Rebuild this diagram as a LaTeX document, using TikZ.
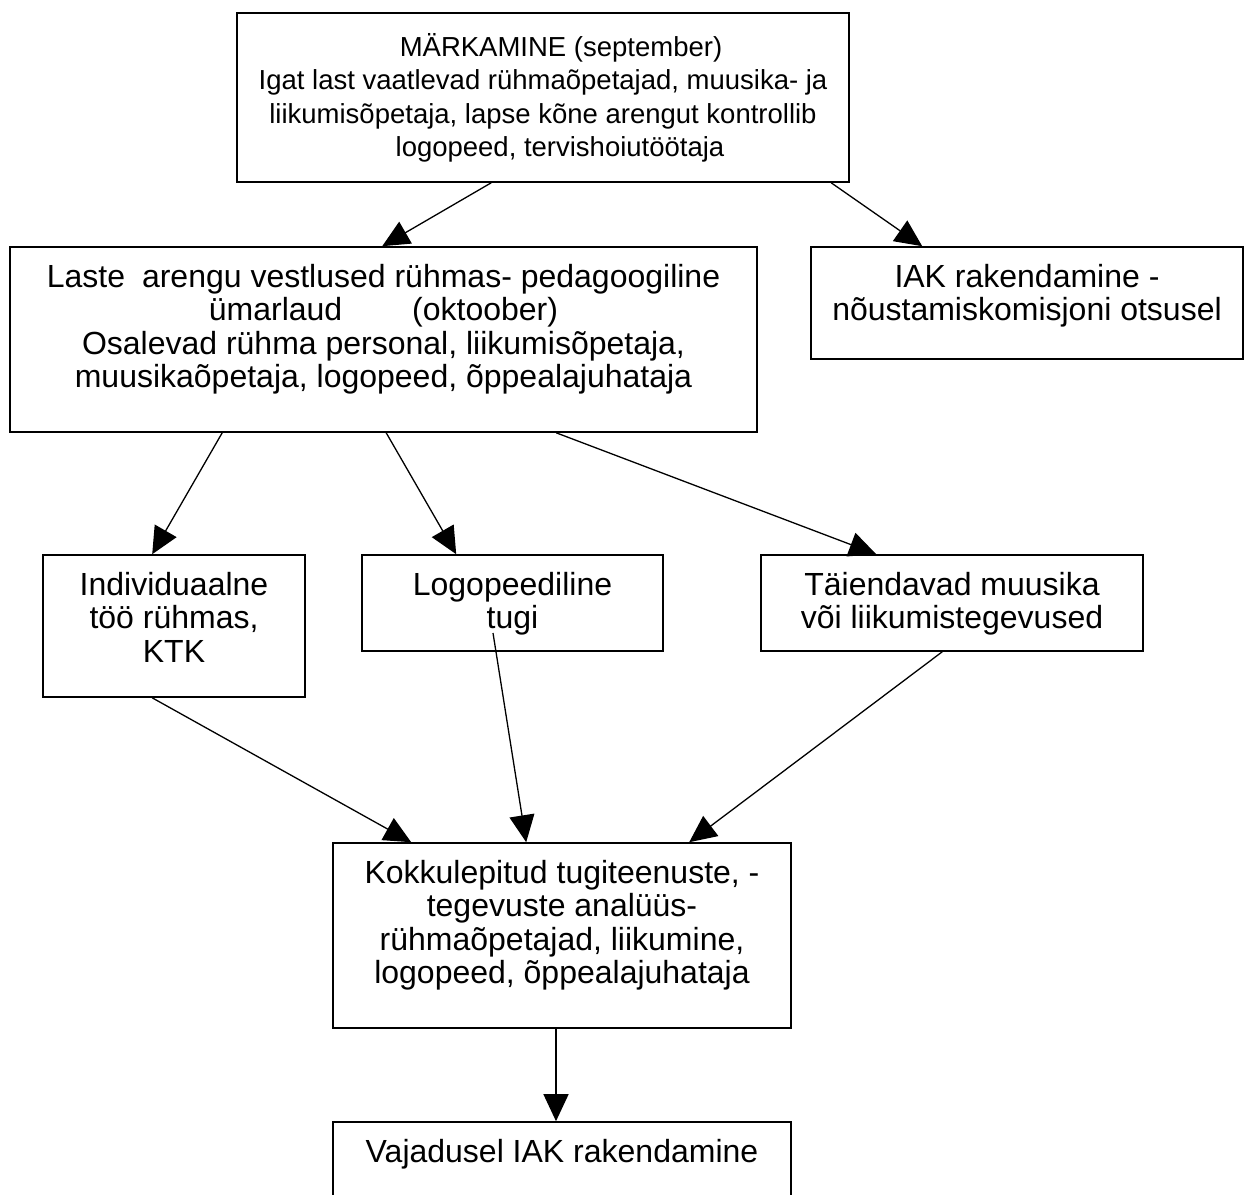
\documentclass[tikz,border=0pt]{standalone}
\usepackage{fontspec}
\setmainfont{Liberation Sans}
\usetikzlibrary{arrows.meta,calc}
\newcommand{\fl}{\rule{0pt}{30pt}}
\begin{document}
\begin{tikzpicture}[x=1pt,y=-1pt,
  box/.style={draw,line width=1.6pt,rectangle,inner sep=0pt},
  txt/.style={align=center,font=\fontsize{32}{33.5}\selectfont,inner sep=0pt,anchor=north},
  smalltxt/.style={txt,font=\fontsize{27.5}{33.5}\selectfont},
  conn/.style={line width=1.3pt,-{Triangle[length=27pt,width=25pt]}}]
\useasboundingbox (0,0) rectangle (1246,1194);
\clip (0,0) rectangle (1246,1194);
\fill[white] (0,0) rectangle (1246,1194);
% boxes
\node[box,minimum width=612pt,minimum height=169pt] (top) at (543,97.5) {};
\node[box,minimum width=747pt,minimum height=185pt] (laste) at (383.5,339.5) {};
\node[box,minimum width=432pt,minimum height=112pt] (iak) at (1027,303) {};
\node[box,minimum width=262pt,minimum height=142pt] (indiv) at (174,626) {};
\node[box,minimum width=301pt,minimum height=96pt] (logo) at (512.5,603) {};
\node[box,minimum width=382pt,minimum height=96pt] (taie) at (952,603) {};
\node[box,minimum width=458pt,minimum height=185pt] (kokk) at (562,935.5) {};
\node[box,minimum width=458pt,minimum height=200pt] (vaj) at (562,1222) {};
% texts
\node[smalltxt] (toptxt) at ($(top.north)+(0,14)$) {\fl\hspace*{36pt}MÄRKAMINE (september)\\Igat last vaatlevad rühmaõpetajad, muusika- ja\\liikumisõpetaja, lapse kõne arengut kontrollib\\\hspace*{34pt}logopeed, tervishoiutöötaja};
\node[txt] (lastetxt) at ($(laste.north)+(0,11)$) {\fl Laste\hspace{17pt}arengu vestlused rühmas- pedagoogiline\\ümarlaud\hspace{70pt}(oktoober)\\Osalevad rühma personal, liikumisõpetaja,\\muusikaõpetaja, logopeed, õppealajuhataja};
\node[txt] (iaktxt) at ($(iak.north)+(0,11)$) {\fl IAK rakendamine -\\nõustamiskomisjoni otsusel};
\node[txt] (indivtxt) at ($(indiv.north)+(0,11)$) {\fl Individuaalne\\töö rühmas,\\KTK};
\node[txt] (logotxt) at ($(logo.north)+(0,11)$) {\fl Logopeediline\\tugi};
\node[txt] (taietxt) at ($(taie.north)+(0,11)$) {\fl Täiendavad muusika\\või liikumistegevused};
\node[txt] (kokktxt) at ($(kokk.north)+(0,11)$) {\fl Kokkulepitud tugiteenuste, -\\tegevuste analüüs-\\rühmaõpetajad, liikumine,\\logopeed, õppealajuhataja};
\node[txt] (vajtxt) at ($(vaj.north)+(0,11)$) {\fl Vajadusel IAK rakendamine};
% connectors
\coordinate (logostart) at (493,633);
\draw[conn] ($(top.south west)+(255,0)$) -- ($(laste.north west)+(373,0)$);
\draw[conn] ($(top.south west)+(595,0)$) -- ($(iak.north west)+(112,0)$);
\draw[conn] ($(laste.south west)+(213,0)$) -- ($(indiv.north west)+(110,0)$);
\draw[conn] ($(laste.south west)+(377,0)$) -- ($(logo.north west)+(95,0)$);
\draw[conn] ($(laste.south west)+(547,0)$) -- ($(taie.north west)+(116,0)$);
\draw[conn] ($(indiv.south west)+(110,0)$) -- ($(kokk.north west)+(79,0)$);
\draw[conn] (logostart) -- ($(kokk.north west)+(194,0)$);
\draw[conn] ($(taie.south west)+(182,0)$) -- ($(kokk.north west)+(357,0)$);
\draw[conn] (kokk.south -| 556,0) -- (vaj.north -| 556,0);
\end{tikzpicture}
\end{document}
